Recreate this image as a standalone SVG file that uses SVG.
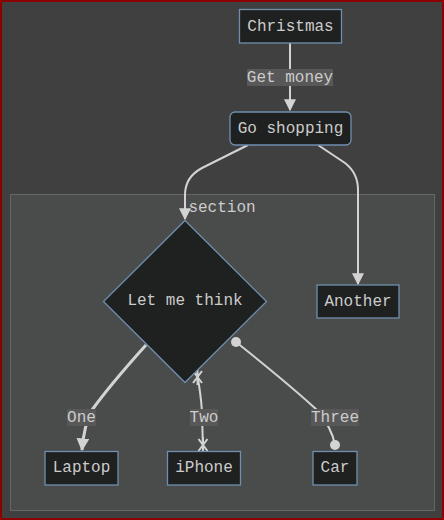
<svg xmlns="http://www.w3.org/2000/svg" width="444" height="520" viewBox="0 0 444 520">
<defs>
<style>
.node{fill:#1f2020;stroke:#6f8fad;stroke-width:1.3}
.t{font-family:"Liberation Mono","DejaVu Sans Mono",monospace;font-size:16px;fill:#cccccc;text-anchor:middle}
.lbl{fill:#585858}
.e{fill:none;stroke:#d3d3d3;stroke-width:2}
</style>
<marker id="arrow" viewBox="0 0 10 10" refX="9" refY="5" markerWidth="6" markerHeight="6" markerUnits="strokeWidth" orient="auto"><path d="M0,0 L10,5 L0,10 z" fill="#d3d3d3"/></marker>
<marker id="arrowT" viewBox="0 0 10 10" refX="9" refY="5" markerWidth="4.3" markerHeight="4.3" markerUnits="strokeWidth" orient="auto"><path d="M0,0 L10,5 L0,10 z" fill="#d3d3d3"/></marker>
</defs>
<rect x="1" y="1" width="442" height="518" fill="#404040" stroke="#8b0000" stroke-width="2"/>
<g id="section">
<rect x="10.5" y="194.5" width="424" height="316" fill="#4a4b4b" stroke="#666" stroke-width="1"/>
<text class="t" x="222" y="212">section</text>
</g>
<g id="connectors">
<path class="e" d="M290,43 L290,110" marker-end="url(#arrow)"/>
<path class="e" d="M248,145 L202,168 Q185,177 185,195 L185,219" marker-end="url(#arrow)"/>
<path class="e" d="M318,145 L345,163 Q358,173 358,190 L358,284" marker-end="url(#arrow)"/>
<path class="e" style="stroke-width:3" d="M146,345 Q110,385 92,410 Q84,425 82,450" marker-end="url(#arrowT)"/>
<path class="e" d="M197,373 Q201,395 202,412 L203,451"/>
<path class="e" d="M193,371 L202,383 M202,371 L193,383 M197.5,369 L197.5,385"/>
<path class="e" d="M198.5,439 L207.5,451 M207.5,439 L198.5,451 M203,437 L203,451"/>
<path class="e" d="M236,342 Q290,385 317,410 Q332,428 335,445"/>
<circle cx="236" cy="342" r="5" fill="#d3d3d3"/>
<circle cx="335" cy="445" r="5" fill="#d3d3d3"/>
<rect class="lbl" x="247" y="69" width="86" height="17"/>
<text class="t" x="290" y="81.5">Get money</text>
<rect class="lbl" x="67" y="409" width="29" height="17"/>
<text class="t" x="81.5" y="421.5">One</text>
<rect class="lbl" x="190" y="409" width="28" height="17"/>
<text class="t" x="204" y="421.5">Two</text>
<rect class="lbl" x="311" y="409" width="48" height="17"/>
<text class="t" x="335" y="421.5">Three</text>
</g>
<g id="christmas">
<rect class="node" x="239.5" y="9.5" width="102" height="33.5"/>
<text class="t" x="290.5" y="30.5">Christmas</text>
</g>
<g id="goshopping">
<rect class="node" x="230" y="112" width="121" height="33" rx="5"/>
<text class="t" x="290.5" y="132.5">Go shopping</text>
</g>
<g id="letmethink">
<polygon class="node" points="185,220.5 266.5,301.5 185,382.5 103.5,301.5"/>
<text class="t" x="185" y="305">Let me think</text>
</g>
<g id="another">
<rect class="node" x="317" y="285" width="82" height="33"/>
<text class="t" x="358" y="305.5">Another</text>
</g>
<g id="laptop">
<rect class="node" x="45" y="451.5" width="73" height="33.5"/>
<text class="t" x="81.5" y="472">Laptop</text>
</g>
<g id="iphone">
<rect class="node" x="167.5" y="451.5" width="73" height="33.5"/>
<text class="t" x="204" y="472">iPhone</text>
</g>
<g id="car">
<rect class="node" x="313" y="451.5" width="44" height="33.5"/>
<text class="t" x="335" y="472">Car</text>
</g>
</svg>
